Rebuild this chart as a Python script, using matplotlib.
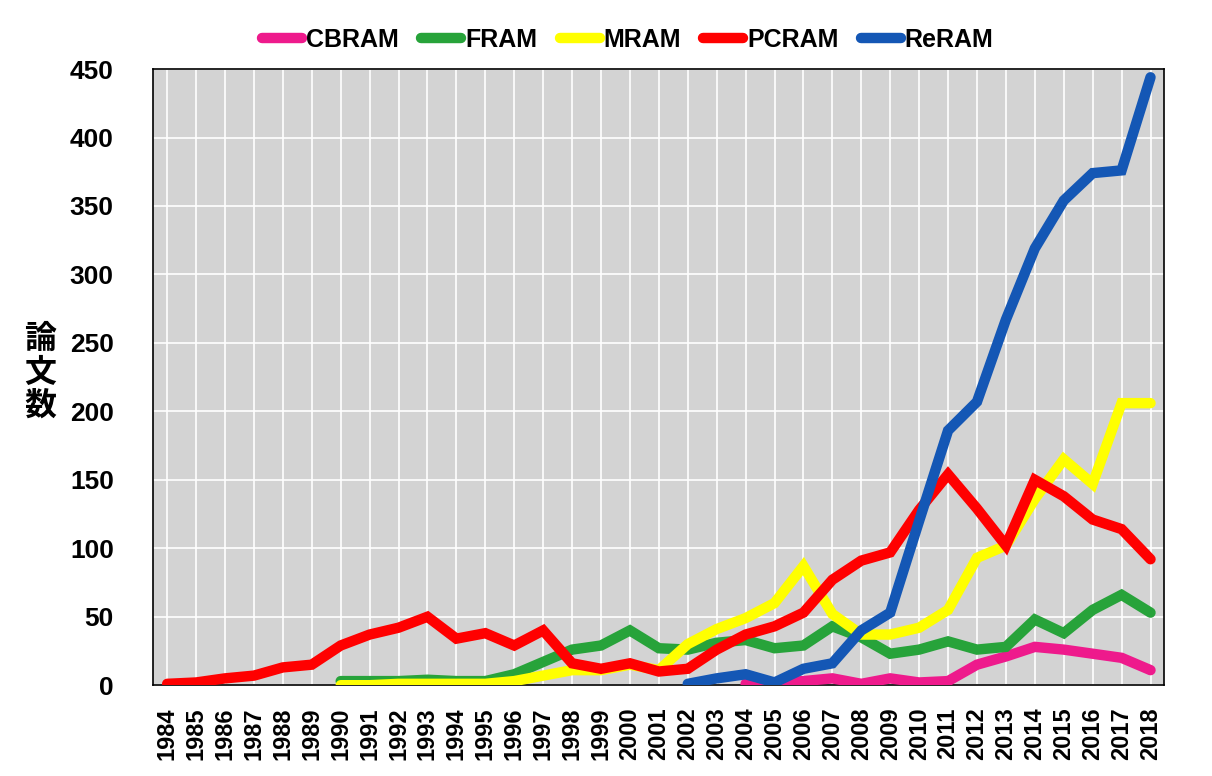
import matplotlib
matplotlib.use("Agg")
import matplotlib.pyplot as plt
from matplotlib.lines import Line2D

years = list(range(1984, 2019))

# paper counts per year (None = no data yet)
pcram = [1, 2, 5, 7, 13, 15, 29, 37, 42, 50, 34, 38, 29, 40, 16, 12, 16, 10, 12, 26,
         37, 43, 53, 77, 91, 97, 128, 154, 129, 102, 150, 138, 121, 114, 92]
fram = [None] * 6 + [3, 3, 3, 4, 3, 3, 8, 17, 26, 29, 40, 27, 26, 31, 33, 27, 29, 43,
                     35, 23, 26, 32, 26, 28, 48, 38, 55, 66, 53]
mram = [None] * 6 + [0, 0, 1, 1, 1, 1, 3, 7, 11, 11, 15, 11, 30, 41, 49, 60, 87, 52,
                     37, 37, 42, 55, 93, 102, 136, 165, 147, 206, 206]
reram = [None] * 18 + [1, 5, 8, 2, 12, 16, 40, 53, 120, 186, 207, 267, 319, 354,
                       374, 376, 444]
cbram = [None] * 20 + [1, 2, 3, 5, 1, 5, 2, 3, 15, 21, 28, 26, 23, 20, 11]

series = [("CBRAM", cbram, "#ee1a8c"), ("FRAM", fram, "#27a33a"),
          ("MRAM", mram, "#ffff00"), ("PCRAM", pcram, "#ff0000"),
          ("ReRAM", reram, "#1457b5")]

font = ["Liberation Sans Narrow", "Liberation Sans", "DejaVu Sans"]
plt.rcParams["font.family"] = font

fig = plt.figure(figsize=(12.12, 7.76), dpi=100)
ax = fig.add_axes([0.126, 0.117, 0.834, 0.794])
ax.set_facecolor("#d3d3d3")

handles = []
for name, vals, col in series:
    xs = [y for y, v in zip(years, vals) if v is not None]
    ys = [v for v in vals if v is not None]
    ax.plot(xs, ys, color=col, linewidth=7.5, solid_capstyle="round",
            solid_joinstyle="miter", zorder=3)
    handles.append(Line2D([], [], color=col, linewidth=7.5, solid_capstyle="round"))

ax.set_xlim(1983.5, 2018.45)
ax.set_ylim(0, 450)
ax.set_xticks(years)
ax.set_xticklabels([str(y) for y in years], rotation=90, fontsize=17, fontweight="bold")
ax.set_yticks(range(0, 451, 50))
ax.set_yticklabels([str(v) for v in range(0, 451, 50)], fontsize=19, fontweight="bold")
ax.tick_params(length=0)
ax.tick_params(axis="y", pad=28)
ax.tick_params(axis="x", pad=16)
ax.grid(True, color="white", linewidth=1.2, zorder=1)
ax.set_axisbelow(True)
for s in ax.spines.values():
    s.set_color("black")
    s.set_linewidth(1.2)

fig.text(0.033, 0.52, "論\n文\n数", ha="center", va="center", fontsize=23,
         fontweight="bold", linespacing=1.05,
         family=["Noto Sans CJK JP", "DejaVu Sans"])

fig.legend(handles, [s[0] for s in series], loc="center", bbox_to_anchor=(0.518, 0.949),
           ncol=5, frameon=False, prop={"size": 18, "weight": "bold"},
           handlelength=1.6, handletextpad=0.15, columnspacing=0.9)

fig.savefig("out.png", dpi=100)
